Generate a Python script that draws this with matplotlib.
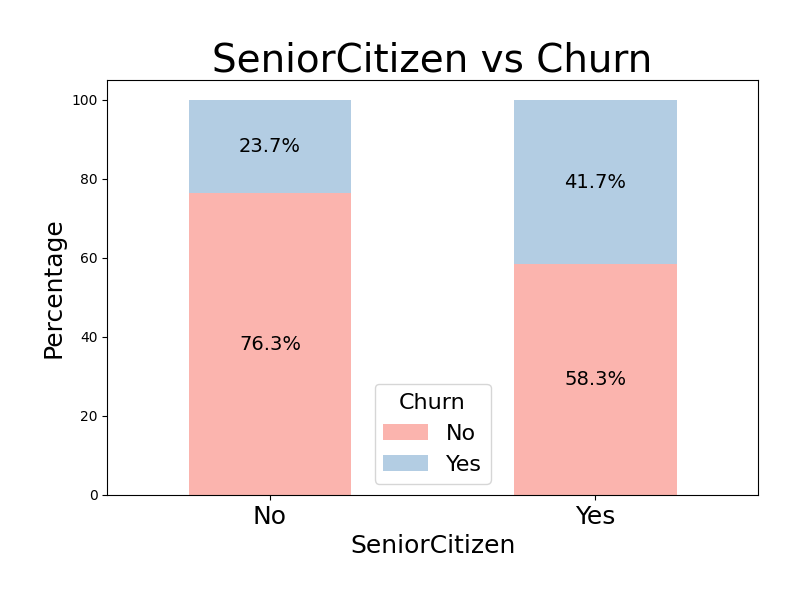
import matplotlib
matplotlib.use("Agg")
import matplotlib.pyplot as plt
import numpy as np

# data
categories = ["No", "Yes"]
churn_no = [76.3, 58.3]
churn_yes = [23.7, 41.7]
legend_labels = ["No", "Yes"]
colors = ["#fbb4ae", "#b3cde3"]

fig = plt.figure(figsize=(8, 6), dpi=100)
ax = fig.add_axes([0.134, 0.175, 0.8135, 0.692])

x = np.arange(len(categories))
b1 = ax.bar(x, churn_no, width=0.5, color=colors[0], label=legend_labels[0])
b2 = ax.bar(x, churn_yes, width=0.5, bottom=churn_no, color=colors[1], label=legend_labels[1])

# percentage labels in the middle of each segment
for i in range(len(categories)):
    ax.text(x[i], churn_no[i] / 2, f"{churn_no[i]:.1f}%", ha="center", va="center", fontsize=14)
    ax.text(x[i], churn_no[i] + churn_yes[i] / 2, f"{churn_yes[i]:.1f}%", ha="center", va="center", fontsize=14)

ax.set_xlim(-0.5, 1.5)
ax.set_xticks(x)
ax.set_xticklabels(categories, fontsize=18, rotation=0)
ax.set_title("SeniorCitizen vs Churn", fontsize=28)
ax.set_xlabel("SeniorCitizen", fontsize=18)
ax.set_ylabel("Percentage", fontsize=18)
ax.legend(title="Churn", fontsize=16, title_fontsize=16, loc="lower center")

plt.savefig("out.png")
